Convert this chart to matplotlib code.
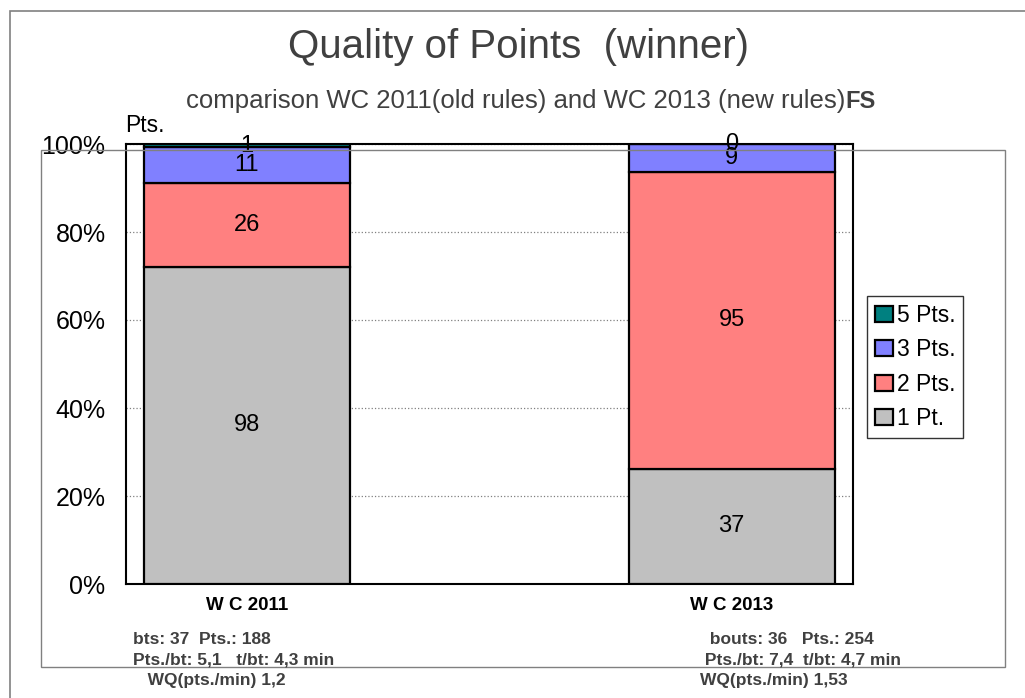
import numpy as np
import matplotlib.pyplot as plt
from matplotlib.patches import Rectangle
from matplotlib.ticker import PercentFormatter

plt.rcParams['font.family'] = ['Liberation Sans', 'DejaVu Sans']

# data
cups = ['W C 2011', 'W C 2013']
series = ['1 Pt.', '2 Pts.', '3 Pts.', '5 Pts.']
pts_1 = [98, 37]
pts_2 = [26, 95]
pts_3 = [11, 9]
pts_5 = [1, 0]
colors = ['#C0C0C0', '#FF8080', '#8080FF', '#008080']

stats_2011 = ['bts: 37  Pts.: 188', 'Pts./bt: 5,1   t/bt: 4,3 min', '   WQ(pts./min) 1,2']
stats_2013 = ['  bouts: 36   Pts.: 254', ' Pts./bt: 7,4  t/bt: 4,7 min', 'WQ(pts./min) 1,53']

counts = np.array([pts_1, pts_2, pts_3, pts_5], dtype=float)
shares = counts / counts.sum(axis=0)

fig = plt.figure(figsize=(10.25, 6.98), dpi=100)
W, H = 1025, 698

# outer chart frame and excel plot-area box
fig.patches.append(Rectangle((10 / W, -0.1), 1.2, 1 - 11 / H + 0.1, transform=fig.transFigure,
                             fill=False, edgecolor='#808080', lw=1.2, zorder=0))
fig.patches.append(Rectangle((41 / W, 1 - 667 / H), (1005 - 41) / W, (667 - 150) / H,
                             transform=fig.transFigure, fill=False, edgecolor='#808080', lw=1.0, zorder=0))

ax = fig.add_axes([125.7 / W, 1 - 584 / H, 727 / W, 440 / H])
ax.set_facecolor('white')

x = np.arange(len(cups))
bottom = np.zeros(len(cups))
handles = []
for i, name in enumerate(series):
    b = ax.bar(x, shares[i], 0.425, bottom=bottom, color=colors[i], edgecolor='black',
               lw=1.6, label=name, zorder=3)
    handles.append(b)
    for j in range(len(cups)):
        ax.text(x[j], bottom[j] + shares[i][j] / 2, '%d' % counts[i][j], ha='center', va='center',
                fontsize=17, color='black', zorder=5)
    bottom += shares[i]

ax.set_xlim(-0.25, 1.25)
ax.set_ylim(0, 1)
ax.set_yticks(np.arange(0, 1.01, 0.2))
ax.yaxis.set_major_formatter(PercentFormatter(1.0, decimals=0))
ax.tick_params(axis='y', length=0, labelsize=18, pad=14.5)
ax.set_xticks([])
ax.grid(axis='y', linestyle=':', color='#808080', lw=0.9, zorder=0)
for s in ax.spines.values():
    s.set_linewidth(1.5)
    s.set_color('black')

for j, c in enumerate(cups):
    ax.text(x[j], -0.05, c, ha='center', va='center', fontsize=13.5, fontweight='bold',
            color='black', transform=ax.transData, clip_on=False)

leg = ax.legend(handles[::-1], series[::-1], loc='upper left', bbox_to_anchor=(867 / W, 1 - 296 / H),
                bbox_transform=fig.transFigure, fontsize=16.5, frameon=True, fancybox=False,
                handlelength=0.8, handleheight=0.7, handletextpad=0.15, labelspacing=0.5,
                borderpad=0.35, borderaxespad=0)
leg.get_frame().set_edgecolor('black')
leg.get_frame().set_linewidth(1.0)

fig.text(518 / W, 1 - 47 / H, 'Quality of Points  (winner)', ha='center', va='center',
         fontsize=29, color='#404040')
fig.text(845 / W, 1 - 101 / H, 'comparison WC 2011(old rules) and WC 2013 (new rules)', ha='right',
         va='center', fontsize=18.5, color='#404040')
fig.text(845 / W, 1 - 101 / H, 'FS', ha='left', va='center', fontsize=17, fontweight='bold',
         color='#404040')
fig.text(125 / W, 1 - 126 / H, 'Pts.', ha='left', va='center', fontsize=16.5, color='black')

ys = [640, 660, 681]
for k in range(3):
    fig.text(133 / W, 1 - ys[k] / H, stats_2011[k], ha='left', va='center', fontsize=12.5,
             fontweight='bold', color='#404040')
    fig.text(700 / W, 1 - ys[k] / H, stats_2013[k], ha='left', va='center', fontsize=12.5,
             fontweight='bold', color='#404040')

fig.savefig('out.png', dpi=100)
